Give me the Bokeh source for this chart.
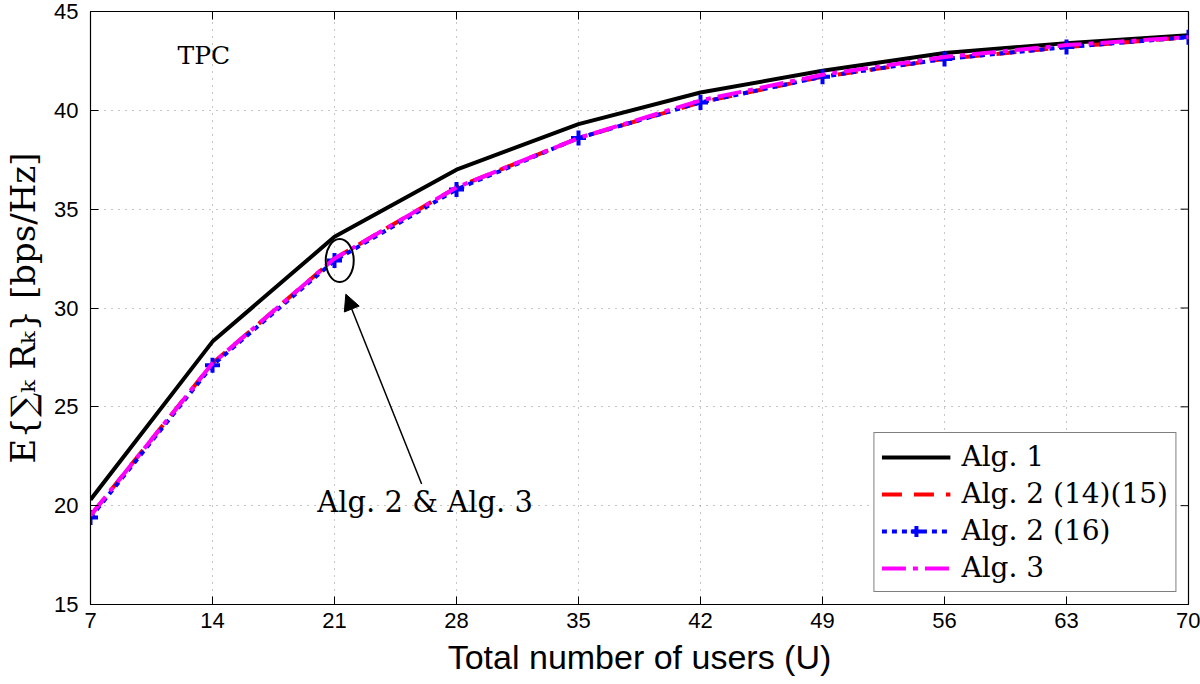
import math
from bokeh.plotting import figure
from bokeh.models import (FixedTicker, Label, Arrow, NormalHead, Legend, LegendItem)
from bokeh.embed import file_html
from bokeh.resources import INLINE

# ---- data ----
users = [7, 14, 21, 28, 35, 42, 49, 56, 63, 70]
alg1 = [20.3, 28.3, 33.6, 37.0, 39.3, 40.9, 42.0, 42.9, 43.4, 43.8]
alg2_1415 = [19.5, 27.2, 32.5, 36.1, 38.6, 40.4, 41.7, 42.6, 43.2, 43.7]
alg2_16 = [19.4, 27.1, 32.4, 36.0, 38.6, 40.4, 41.7, 42.6, 43.2, 43.7]
alg3 = [19.5, 27.2, 32.5, 36.1, 38.6, 40.5, 41.8, 42.7, 43.3, 43.7]
x_ticks = [7, 14, 21, 28, 35, 42, 49, 56, 63, 70]
y_ticks = [15, 20, 25, 30, 35, 40, 45]
legend_labels = ["Alg. 1", "Alg. 2 (14)(15)", "Alg. 2 (16)", "Alg. 3"]

SERIF = "DejaVu Serif"
SANS = "Liberation Sans"
X_MIN, X_MAX = 7, 70
Y_MIN, Y_MAX = 15, 45

p = figure(width=1200, height=684, output_backend="svg", toolbar_location=None,
           x_range=(X_MIN, X_MAX), y_range=(Y_MIN, Y_MAX),
           min_border_left=87, min_border_right=12, min_border_top=11, min_border_bottom=80)

p.outline_line_color = "black"
p.outline_line_width = 1.2

# grid
for g in (p.xgrid, p.ygrid):
    g.grid_line_color = "#666666"
    g.grid_line_dash = "1 6"
    g.grid_line_width = 1
    g.grid_line_alpha = 0.75
p.xgrid.ticker = FixedTicker(ticks=x_ticks)
p.ygrid.ticker = FixedTicker(ticks=y_ticks)

# main axes
p.xaxis.ticker = FixedTicker(ticks=x_ticks)
p.yaxis.ticker = FixedTicker(ticks=y_ticks)
for ax in (p.xaxis[0], p.yaxis[0]):
    ax.major_tick_in = 8
    ax.major_tick_out = 0
    ax.minor_tick_in = 0
    ax.minor_tick_out = 0
    ax.axis_line_color = "black"
    ax.major_tick_line_color = "black"
    ax.major_label_text_font = SANS
    ax.major_label_text_font_size = "22px"
    ax.major_label_text_color = "black"
    ax.axis_label_text_color = "black"
    ax.axis_label_text_font_style = "normal"

p.xaxis.axis_label = "Total number of users (U)"
p.xaxis.axis_label_text_font = SANS
p.xaxis.axis_label_text_font_size = "34px"
p.xaxis.axis_label_standoff = 7
p.xaxis.major_label_standoff = 8

p.yaxis.axis_label = "E{\u2211\u2096 R\u2096} [bps/Hz]"
p.yaxis.axis_label_text_font = SERIF
p.yaxis.axis_label_text_font_size = "34px"
p.yaxis.axis_label_standoff = 8
p.yaxis.major_label_standoff = 12

# mirrored inward ticks on top and right edges (half of each dash is clipped by the frame)
p.scatter(x_ticks, [Y_MAX] * len(x_ticks), marker="dash", angle=math.pi / 2, size=16,
          line_color="black", line_width=1)
p.scatter([X_MAX] * len(y_ticks), y_ticks, marker="dash", size=16,
          line_color="black", line_width=1)

# series
r1 = p.line(users, alg1, line_color="black", line_width=4)
r2 = p.line(users, alg2_1415, line_color="#ff0000", line_width=4, line_dash="20 12")
r3 = p.line(users, alg2_16, line_color="#0000ff", line_width=4, line_dash="5 5")
r3m = p.scatter(users, alg2_16, marker="cross", size=15, line_color="#0000ff", line_width=4)
r4 = p.line(users, alg3, line_color="#ff00ff", line_width=4, line_dash="24 7 5 7")

legend = Legend(items=[
    LegendItem(label=legend_labels[0], renderers=[r1]),
    LegendItem(label=legend_labels[1], renderers=[r2]),
    LegendItem(label=legend_labels[2], renderers=[r3, r3m]),
    LegendItem(label=legend_labels[3], renderers=[r4]),
], location="bottom_right")
legend.label_text_font = SERIF
legend.label_text_font_size = "28px"
legend.label_text_color = "black"
legend.glyph_width = 69
legend.glyph_height = 28
legend.label_height = 28
legend.spacing = 4
legend.padding = 7
legend.margin = 12
legend.label_standoff = 11
legend.border_line_color = "black"
legend.border_line_width = 1.5
legend.background_fill_alpha = 1.0
p.add_layout(legend, "center")

# annotations
p.ellipse(x=users[2] + 0.3, y=alg2_1415[2] - 0.1, width=28, height=43,
          width_units="screen", height_units="screen",
          fill_color=None, line_color="black", line_width=2)
p.add_layout(Arrow(end=NormalHead(size=16, fill_color="black", line_color="black"),
                   x_start=26.0, y_start=21.1, x_end=users[2] + 0.65, y_end=30.7,
                   line_color="black", line_width=1.5))
p.add_layout(Label(x=26.2, y=20.2, text="Alg. 2 & Alg. 3", text_font=SERIF,
                   text_font_size="29px", text_align="center", text_baseline="middle",
                   text_color="black"))
p.add_layout(Label(x=13.5, y=42.75, text="TPC", text_font=SERIF,
                   text_font_size="25px", text_align="center", text_baseline="middle",
                   text_color="black"))

open("out.html", "w").write(file_html(p, INLINE))
